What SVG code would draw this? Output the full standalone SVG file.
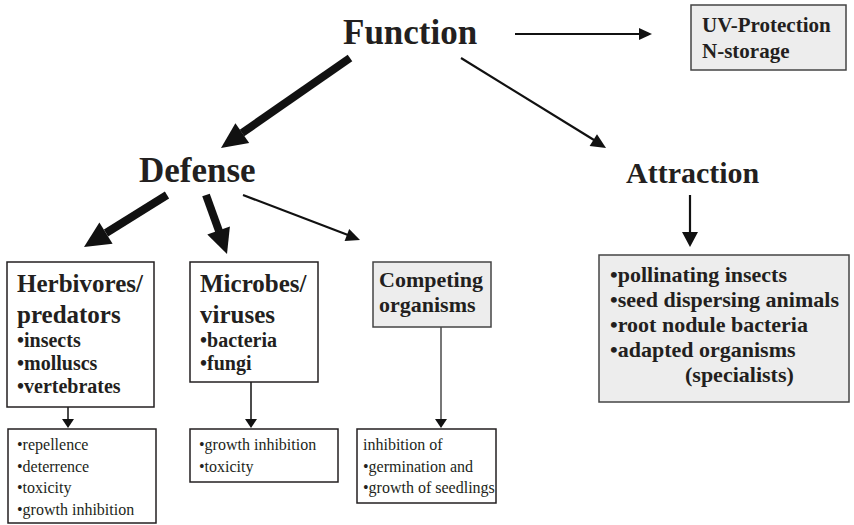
<svg xmlns="http://www.w3.org/2000/svg" width="854" height="525" viewBox="0 0 854 525">
<style>
text{font-family:"Liberation Serif","Times New Roman",serif;fill:#231f20}
.b{font-weight:bold}
.big{font-size:35px;font-weight:bold}
.h{font-size:25px;font-weight:bold}
.li{font-size:20px;font-weight:bold}
.g{font-size:22px;font-weight:bold}
.s{font-size:16px}
.box{fill:#fff;stroke:#231f20;stroke-width:1.5}
.gbox{fill:#ededed;stroke:#444;stroke-width:1.5}
.thick{stroke:#111;stroke-width:8;fill:none}
.thin{stroke:#111;stroke-width:2.2;fill:none}
.hd{fill:#111}
</style>
<rect width="854" height="525" fill="#fff"/>
<g id="connectors">
<line class="thick" x1="350" y1="58" x2="242" y2="133"/>
<polygon class="hd" points="221,148 249.2,142.9 235.4,123.3"/>
<line class="thin" x1="461" y1="58" x2="594" y2="140"/>
<polygon class="hd" points="606,148 589.6,146 597,134.2"/>
<line class="thin" x1="515" y1="34" x2="640" y2="34"/>
<polygon class="hd" points="652,34 639,28 639,40"/>
<line class="thin" x1="690" y1="195" x2="690" y2="233"/>
<polygon class="hd" points="690,247 682,232 698,232"/>
<line class="thick" x1="167" y1="195" x2="106" y2="233"/>
<polygon class="hd" points="84,247 112.6,243.8 99.4,222.6"/>
<line class="thick" x1="206" y1="195" x2="219" y2="231"/>
<polygon class="hd" points="227,254 207.3,234.4 229.9,226.4"/>
<line class="thin" x1="243" y1="195" x2="348" y2="235"/>
<polygon class="hd" points="360,240 344.6,241.1 349.2,228.9"/>
<line stroke="#111" stroke-width="1.5" x1="68" y1="407" x2="68" y2="420"/>
<polygon class="hd" points="68,428 62,419 74,419"/>
<line stroke="#111" stroke-width="1.5" x1="251" y1="382" x2="251" y2="420"/>
<polygon class="hd" points="251,428 245,419 257,419"/>
<line stroke="#777" stroke-width="2" x1="441" y1="327" x2="441" y2="420"/>
<polygon class="hd" points="441,428 435,419 447,419"/>
</g>
<g id="function"><text class="big" x="343" y="44">Function</text></g>
<g id="uv">
<rect class="gbox" x="691" y="5" width="155" height="65"/>
<text class="g" x="702" y="32" style="font-size:21px">UV-Protection</text>
<text class="g" x="702" y="58" style="font-size:21px">N-storage</text>
</g>
<g id="defense"><text class="big" x="139" y="182">Defense</text></g>
<g id="attraction"><text class="b" x="626" y="183" style="font-size:30px">Attraction</text></g>
<g id="attraction-box">
<rect class="gbox" x="599" y="255" width="250" height="147"/>
<text class="g" x="610" y="282">•pollinating insects</text>
<text class="g" x="610" y="307">•seed dispersing animals</text>
<text class="g" x="610" y="332">•root nodule bacteria</text>
<text class="g" x="610" y="357">•adapted organisms</text>
<text class="g" x="685" y="382">(specialists)</text>
</g>
<g id="herbivores">
<rect class="box" x="7" y="262" width="147" height="145"/>
<text class="h" x="17" y="292">Herbivores/</text>
<text class="h" x="17" y="323">predators</text>
<text class="li" x="17" y="347">•insects</text>
<text class="li" x="17" y="370">•molluscs</text>
<text class="li" x="17" y="393">•vertebrates</text>
</g>
<g id="microbes">
<rect class="box" x="190" y="262" width="128" height="120"/>
<text class="h" x="200" y="292">Microbes/</text>
<text class="h" x="200" y="323">viruses</text>
<text class="li" x="200" y="347">•bacteria</text>
<text class="li" x="200" y="370">•fungi</text>
</g>
<g id="competing">
<rect class="gbox" x="373" y="262" width="118" height="65"/>
<text class="b" x="379" y="287" style="font-size:22px">Competing</text>
<text class="b" x="379" y="312" style="font-size:22px">organisms</text>
</g>
<g id="herb-effects">
<rect class="box" x="8" y="429" width="148" height="94"/>
<text class="s" x="17" y="450">•repellence</text>
<text class="s" x="17" y="472">•deterrence</text>
<text class="s" x="17" y="493">•toxicity</text>
<text class="s" x="17" y="515">•growth inhibition</text>
</g>
<g id="microbe-effects">
<rect class="box" x="190" y="429" width="148" height="53"/>
<text class="s" x="199" y="450">•growth inhibition</text>
<text class="s" x="199" y="472">•toxicity</text>
</g>
<g id="competing-effects">
<rect class="box" x="357" y="429" width="139" height="74"/>
<text class="s" x="363" y="450">inhibition of</text>
<text class="s" x="363" y="472">•germination and</text>
<text class="s" x="363" y="493">•growth of seedlings</text>
</g>
</svg>
